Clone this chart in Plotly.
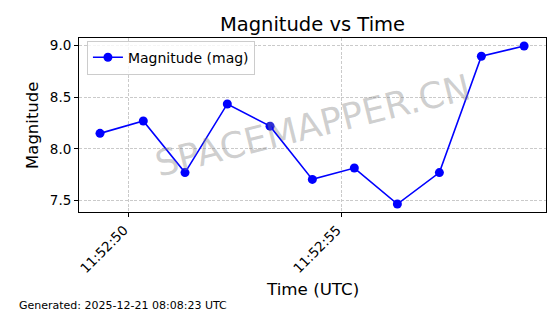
import plotly.graph_objects as go

times = [
    "2025-12-21 11:52:49.343", "2025-12-21 11:52:50.359", "2025-12-21 11:52:51.338",
    "2025-12-21 11:52:52.331", "2025-12-21 11:52:53.333", "2025-12-21 11:52:54.326",
    "2025-12-21 11:52:55.312", "2025-12-21 11:52:56.322", "2025-12-21 11:52:57.308",
    "2025-12-21 11:52:58.293", "2025-12-21 11:52:59.296",
]
magnitude = [8.15, 8.27, 7.77, 8.435, 8.22, 7.704, 7.814, 7.465, 7.77, 8.897, 8.997]
x_tickvals = ["2025-12-21 11:52:50", "2025-12-21 11:52:55"]
x_ticktext = ["11:52:50", "11:52:55"]
y_tickvals = [7.5, 8.0, 8.5, 9.0]
y_ticktext = ["7.5", "8.0", "8.5", "9.0"]

FONT = "DejaVu Sans"

fig = go.Figure()
fig.add_trace(go.Scatter(
    x=times, y=magnitude, mode="lines+markers", name="Magnitude (mag)",
    line=dict(color="#0000ff", width=1.6),
    marker=dict(color="#0000ff", size=9),
))

fig.update_layout(
    width=560, height=314,
    margin=dict(l=79, r=14, t=38, b=102),
    paper_bgcolor="white", plot_bgcolor="white",
    font=dict(family=FONT, color="black"),
    showlegend=True,
    legend=dict(x=0.017, y=0.985, xanchor="left", yanchor="top",
                bgcolor="rgba(255,255,255,0.8)", bordercolor="#cccccc", borderwidth=1,
                font=dict(family=FONT, size=14, color="black")),
    title=dict(text="Magnitude vs Time", x=0.5, xref="paper", xanchor="center",
               y=1 - 24 / 314, yref="container", yanchor="middle",
               font=dict(family=FONT, size=19.5, color="black")),
)

grid = dict(showgrid=True, gridcolor="#cacaca", griddash="3px,1.6px", gridwidth=0.8)

fig.update_xaxes(
    type="date",
    range=["2025-12-21 11:52:48.85", "2025-12-21 11:52:59.81"],
    tickvals=x_tickvals, ticktext=x_ticktext, tickangle=-45, ticklabelshift=-4,
    tickfont=dict(family=FONT, size=13.5, color="black"),
    ticks="outside", ticklen=4, tickcolor="black",
    showline=True, linecolor="black", linewidth=1, mirror=True,
    zeroline=False, **grid,
)
fig.update_yaxes(
    range=[7.388, 9.074],
    tickvals=y_tickvals, ticktext=y_ticktext,
    tickfont=dict(family=FONT, size=13.5, color="black"),
    ticks="outside", ticklen=4, tickcolor="black",
    showline=True, linecolor="black", linewidth=1, mirror=True,
    zeroline=False, **grid,
)

fig.add_annotation(text="Time (UTC)", xref="paper", yref="paper", x=0.5, y=-(289 - 212) / 174,
                   xanchor="center", yanchor="middle", showarrow=False,
                   font=dict(family=FONT, size=16.7, color="black"))
fig.add_annotation(text="Magnitude", xref="paper", yref="paper", x=-(79 - 32) / 466.7, y=0.5,
                   xanchor="center", yanchor="middle", textangle=-90, showarrow=False,
                   font=dict(family=FONT, size=16.5, color="black"))
fig.add_annotation(text="Generated: 2025-12-21 08:08:23 UTC", xref="paper", yref="paper",
                   x=-(79 - 17) / 466.7, y=-(305 - 212) / 174, xanchor="left", yanchor="middle",
                   showarrow=False, font=dict(family=FONT, size=11, color="black"))
fig.add_annotation(text="SPACEMAPPER.CN", xref="paper", yref="paper", x=0.5, y=0.5,
                   xanchor="center", yanchor="middle", textangle=-14, showarrow=False,
                   font=dict(family=FONT, size=36, color="rgba(128,128,128,0.38)"))

fig.write_html("out.html")
